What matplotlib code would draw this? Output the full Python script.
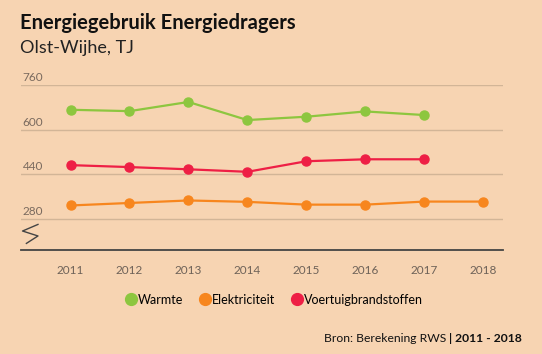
import matplotlib.pyplot as plt
import matplotlib.transforms as mtransforms
from matplotlib.lines import Line2D

years = [2011, 2012, 2013, 2014, 2015, 2016, 2017, 2018]
warmte = [671, 666, 699, 634, 646, 665, 652]
elektriciteit = [327, 336, 345, 340, 330, 330, 341, 341]
voertuig = [472, 465, 457, 448, 486, 493, 493]
yticks = [280, 440, 600, 760]

bg = '#F7D4B2'
c_green = '#8DC63F'
c_orange = '#F7861E'
c_red = '#EE1F45'

plt.rcParams['font.family'] = ['Lato', 'DejaVu Sans']

fig = plt.figure(figsize=(5.42, 3.54), dpi=100, facecolor=bg)
ax = fig.add_axes([0.038, 0.2938, 0.8905, 0.4661], facecolor=bg)

ax.plot(years[:len(warmte)], warmte, '-o', color=c_green, lw=1.6, ms=6.5, clip_on=False, zorder=3)
ax.plot(years, elektriciteit, '-o', color=c_orange, lw=1.6, ms=6.5, clip_on=False, zorder=3)
ax.plot(years[:len(voertuig)], voertuig, '-o', color=c_red, lw=1.6, ms=6.5, clip_on=False, zorder=3)

ax.set_xlim(2010.153, 2018.34)
ax.set_ylim(167, 760)
for s in ['top', 'right', 'left']:
    ax.spines[s].set_visible(False)
ax.spines['bottom'].set_color('#444444')
ax.spines['bottom'].set_linewidth(1.3)

ax.set_yticks(yticks)
ax.set_yticklabels([])
ax.tick_params(axis='y', length=0)
ax.grid(axis='y', color='#D2B597', lw=1)
ax.set_axisbelow(True)
trans = mtransforms.blended_transform_factory(ax.transAxes, ax.transData)
for t in yticks:
    ax.text(0.004, t + 7, str(t), transform=trans, ha='left', va='bottom',
            fontsize=8.5, color='#7a6a5e')

ax.set_xticks(years)
ax.tick_params(axis='x', length=0, pad=11, labelsize=8.5, labelcolor='#6e6258')

# break mark
ax.plot([0.036, 0.004, 0.036, 0.012], [0.155, 0.115, 0.085, 0.04], transform=ax.transAxes,
        color='#444444', lw=1.0, clip_on=False)

fig.text(0.037, 0.935, 'Energiegebruik Energiedragers', fontsize=14.5, fontweight='bold',
         color='#111111', va='center', ha='left')
fig.text(0.037, 0.865, 'Olst-Wijhe, TJ', fontsize=13, fontweight='normal',
         color='#222222', va='center', ha='left')

handles = [Line2D([], [], marker='o', ls='', color=c, ms=8.5) for c in (c_green, c_orange, c_red)]
fig.legend(handles, ['Warmte', 'Elektriciteit', 'Voertuigbrandstoffen'], loc='center',
           bbox_to_anchor=(0.505, 0.153), ncol=3, frameon=False, fontsize=9,
           handletextpad=0.1, columnspacing=1.2, handlelength=1.0)

bold = fig.text(0.962, 0.045, '| 2011 - 2018', fontsize=8.7, fontweight='bold', ha='right',
                va='center', color='#111111')
fig.canvas.draw()
bb = bold.get_window_extent().transformed(fig.transFigure.inverted())
fig.text(bb.x0 - 0.004, 0.045, 'Bron: Berekening RWS', fontsize=8.7, ha='right', va='center',
         color='#111111')

fig.savefig('out.png', dpi=100, facecolor=bg)
